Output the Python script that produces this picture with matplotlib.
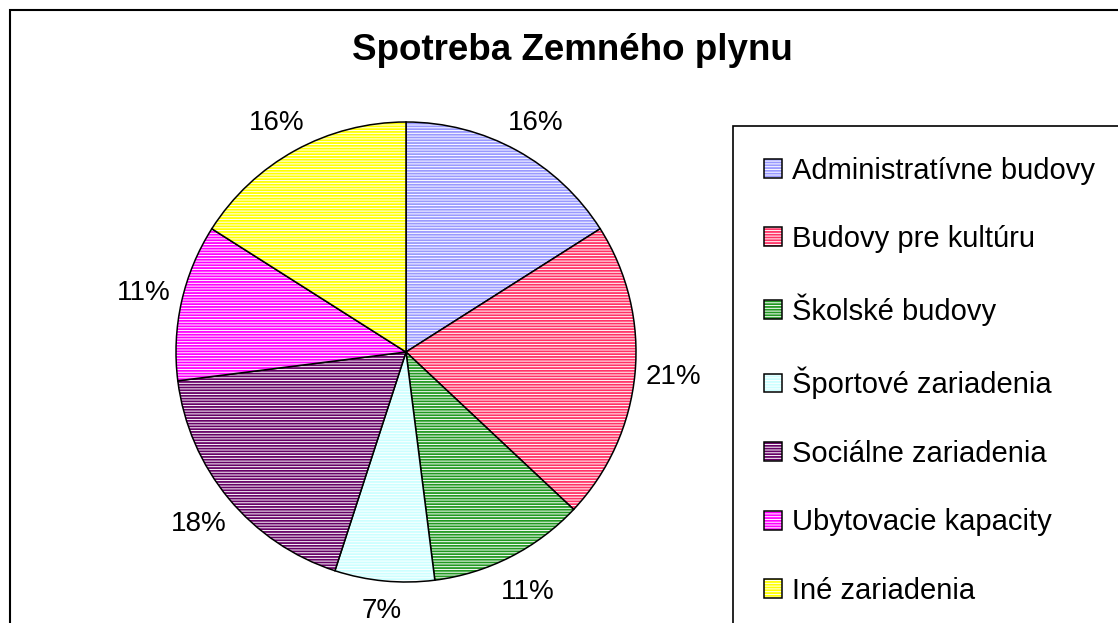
import matplotlib
matplotlib.use("Agg")
import numpy as np
import matplotlib.pyplot as plt
from matplotlib.patches import Rectangle
from matplotlib.colors import to_rgba

categories = ['Administratívne budovy', 'Budovy pre kultúru', 'Školské budovy',
              'Športové zariadenia', 'Sociálne zariadenia', 'Ubytovacie kapacity',
              'Iné zariadenia']
shares = [16, 21, 11, 7, 18, 11, 16]
colors = ['#9999FF', '#FF3366', '#229922', '#CCFFFF', '#660066', '#FF00FF', '#FFFF00']

plt.rcParams['font.family'] = ['Liberation Sans', 'DejaVu Sans']
plt.rcParams['hatch.linewidth'] = 1.3

W, H = 1118, 623
fig = plt.figure(figsize=(W / 100, H / 100), dpi=100)

# outer chart frame (runs off right and bottom edges)
fig.patches.append(Rectangle((10 / W, -0.2), 1.2, 1.2 - 10 / H, transform=fig.transFigure,
                             fill=False, edgecolor='black', linewidth=1.5))

cx, cy, R = 406, 352, 230
pad = 4
ax = fig.add_axes([(cx - R - pad) / W, (H - cy - R - pad) / H,
                   2 * (R + pad) / W, 2 * (R + pad) / H])

wedges, texts = ax.pie(shares, colors=['white'] * len(shares), startangle=90,
                       counterclock=False, labels=None,
                       wedgeprops=dict(edgecolor='black', linewidth=1.1, hatch='------'))
for w, c in zip(wedges, colors):
    w._hatch_color = to_rgba(c)

lim = (R + pad) / R
ax.set_xlim(-lim, lim)
ax.set_ylim(-lim, lim)
ax.axis('off')

# percentage labels just outside the pie
for w, v in zip(wedges, shares):
    ang = np.deg2rad((w.theta1 + w.theta2) / 2)
    d = 1.17 if abs(np.cos(ang)) > 0.4 else 1.13
    dy = -0.03 if np.sin(ang) > 0.3 else 0.0
    ax.text(d * np.cos(ang), d * np.sin(ang) + dy, f'{v}%', ha='center', va='center',
            fontsize=20, clip_on=False)

fig.text(572 / W, 1 - 60 / H, 'Spotreba Zemného plynu', ha='center', va='baseline',
         fontsize=26.5, fontweight='bold')

leg = fig.legend(wedges, categories, loc='upper left',
                 bbox_to_anchor=(733 / W, 1 - 126 / H), fontsize=21,
                 frameon=True, fancybox=False, edgecolor='black', framealpha=1,
                 handlelength=0.62, handleheight=0.62, handletextpad=0.34,
                 labelspacing=1.39, borderpad=1.05, borderaxespad=0)
leg.get_frame().set_linewidth(1.2)

fig.savefig('out.png', dpi=100)
